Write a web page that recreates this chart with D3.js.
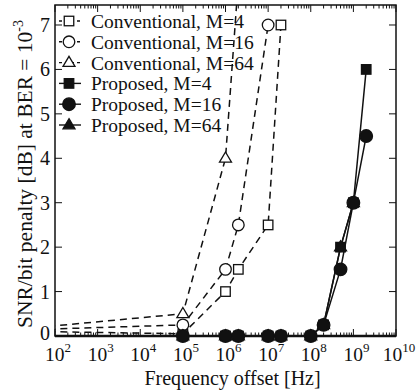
<!DOCTYPE html>
<html>
<head>
<meta charset="utf-8">
<script src="https://cdn.jsdelivr.net/npm/d3@7"></script>
<style>
  body { margin: 0; background: #fff; }
  text { font-family: "Liberation Serif", "DejaVu Serif", serif; fill: #111; }
</style>
</head>
<body>
<svg id="chart" width="418" height="391"></svg>
<script>
// values (frequency offset in Hz, penalty in dB)
const convM4 = [[1e1, 0.11], [1e5, 0.05], [1e6, 1.0], [2e6, 1.5], [1e7, 2.5], [2e7, 7.0]];
const convM16 = [[1e1, 0.13], [1e5, 0.25], [1e6, 1.5], [2e6, 2.5], [1e7, 7.0]];
const convM64 = [[1e1, 0.14], [1e5, 0.5], [1e6, 4.0], [2e6, 8.0]];
const propM4 = [[1e5, 0], [1e6, 0], [2e6, 0], [1e7, 0], [2e7, 0], [1e8, 0], [2e8, 0.25], [5e8, 2.0], [1e9, 3.0], [2e9, 6.0]];
const propM64 = [[1e5, 0], [1e6, 0], [2e6, 0], [1e7, 0], [2e7, 0], [1e8, 0], [2e8, 0.25], [5e8, 2.0], [1e9, 3.0]];
const propM16 = [[1e5, 0], [1e6, 0], [2e6, 0], [1e7, 0], [2e7, 0], [1e8, 0], [2e8, 0.25], [5e8, 1.5], [1e9, 3.0], [2e9, 4.5]];

const xExponents = [2, 3, 4, 5, 6, 7, 8, 9, 10];
const yTicks = [0, 1, 2, 3, 4, 5, 6, 7];

const series = [
  { name: 'Conventional, M=4', data: convM4, shape: 'square', filled: false, dashed: true },
  { name: 'Conventional, M=16', data: convM16, shape: 'circle', filled: false, dashed: true },
  { name: 'Conventional, M=64', data: convM64, shape: 'triangle', filled: false, dashed: true },
  { name: 'Proposed, M=4', data: propM4, shape: 'square', filled: true, dashed: false },
  { name: 'Proposed, M=16', data: propM16, shape: 'circle', filled: true, dashed: false },
  { name: 'Proposed, M=64', data: propM64, shape: 'triangle', filled: true, dashed: false },
];

const margin = { left: 55, right: 22, top: 5, bottom: 55 };
const width = 418, height = 391;
const svg = d3.select('#chart');

const x = d3.scaleLog().domain([1e2, 1e10]).range([margin.left, width - margin.right]);
const y = d3.scaleLinear().domain([0, 7.45]).range([height - margin.bottom, margin.top]);

const x0 = x.range()[0], x1 = x.range()[1];
const y0 = y.range()[0], y1 = y.range()[1];

svg.append('clipPath').attr('id', 'plotClip')
  .append('rect').attr('x', x0).attr('y', y1).attr('width', x1 - x0).attr('height', y0 - y1);
// markers may hang below the bottom axis, as in the reference
svg.append('clipPath').attr('id', 'markClip')
  .append('rect').attr('x', x0).attr('y', y1).attr('width', x1 - x0).attr('height', y0 - y1 + 10);

// minor + major ticks for the log axis
const minorX = [];
for (let e = 2; e < 10; e++) for (let m = 2; m <= 9; m++) minorX.push(m * Math.pow(10, e));
const majorX = xExponents.map(e => Math.pow(10, e));

const ticks = svg.append('g').attr('stroke', '#111').attr('stroke-width', 1);
[y0, y1].forEach(yy => {
  const dir = yy === y0 ? -1 : 1;
  minorX.forEach(v => ticks.append('line').attr('x1', x(v)).attr('x2', x(v)).attr('y1', yy).attr('y2', yy + dir * 3.5));
  majorX.forEach(v => ticks.append('line').attr('x1', x(v)).attr('x2', x(v)).attr('y1', yy).attr('y2', yy + dir * 7));
});
[x0, x1].forEach(xx => {
  const dir = xx === x0 ? 1 : -1;
  yTicks.forEach(v => ticks.append('line').attr('x1', xx).attr('x2', xx + dir * 7).attr('y1', y(v)).attr('y2', y(v)));
});

// x tick labels 10^n
const xl = svg.append('g');
xExponents.forEach(e => {
  const t = xl.append('text').attr('x', x(Math.pow(10, e)) + 3).attr('y', y0 + 25)
    .attr('text-anchor', 'middle').style('font-size', '19.5px');
  t.append('tspan').text('10');
  t.append('tspan').attr('dy', -9).style('font-size', '13px').text(e);
});

// y tick labels (the 0 sits a little higher so it clears the 10^2 below it)
svg.append('g').selectAll('text').data(yTicks).join('text')
  .attr('x', x0 - 5).attr('y', d => y(d) + (d === 0 ? 4 : 7))
  .attr('text-anchor', 'end').style('font-size', '20px')
  .text(d => d);

// axis titles
svg.append('text').attr('x', (x0 + x1) / 2 + 7).attr('y', 385)
  .attr('text-anchor', 'middle').style('font-size', '20px').text('Frequency offset [Hz]');
const yt = svg.append('text').attr('transform', `translate(32,174) rotate(-90)`)
  .attr('text-anchor', 'middle').style('font-size', '21.5px');
yt.append('tspan').text('SNR/bit penalty [dB] at BER = 10');
yt.append('tspan').attr('dy', -9).style('font-size', '14px').text('-3');

function drawMarker(g, shape, filled, cx, cy) {
  const fill = filled ? '#111' : '#fff';
  if (shape === 'square') {
    const s = 9.5;
    g.append('rect').attr('x', cx - s / 2).attr('y', cy - s / 2).attr('width', s).attr('height', s)
      .attr('fill', fill).attr('stroke', '#111').attr('stroke-width', 1.3);
  } else if (shape === 'circle') {
    g.append('circle').attr('cx', cx).attr('cy', cy).attr('r', filled ? 6.3 : 5.8)
      .attr('fill', fill).attr('stroke', '#111').attr('stroke-width', 1.3);
  } else {
    const r = 6.3;
    const pts = [[cx, cy - r], [cx + r * 0.95, cy + r * 0.6], [cx - r * 0.95, cy + r * 0.6]];
    g.append('polygon').attr('points', pts.map(p => p.join(',')).join(' '))
      .attr('fill', fill).attr('stroke', '#111').attr('stroke-width', 1.3);
  }
}

const plot = svg.append('g').attr('clip-path', 'url(#plotClip)');
const line = d3.line().x(d => x(d[0])).y(d => y(d[1]));

series.forEach(s => {
  plot.append('path').datum(s.data).attr('d', line)
    .attr('fill', 'none').attr('stroke', '#111').attr('stroke-width', 1.5)
    .attr('stroke-dasharray', s.dashed ? '7,5' : null);
});

// frame
svg.append('rect').attr('x', x0).attr('y', y1).attr('width', x1 - x0).attr('height', y0 - y1)
  .attr('fill', 'none').attr('stroke', '#111').attr('stroke-width', 1.5);
svg.append('line').attr('x1', x0).attr('x2', x1).attr('y1', y0).attr('y2', y0)
  .attr('stroke', '#111').attr('stroke-width', 2.5);

// markers: draw so that filled circles end up on top
const marks = svg.append('g').attr('clip-path', 'url(#markClip)');
const order = [0, 1, 2, 3, 5, 4];
order.forEach(i => {
  const s = series[i];
  const g = marks.append('g');
  s.data.forEach(d => drawMarker(g, s.shape, s.filled, x(d[0]), y(d[1])));
});

// legend
const legend = svg.append('g');
series.forEach((s, i) => {
  const ly = 21 + i * 20.8;
  const row = legend.append('g');
  row.append('line').attr('x1', 59).attr('x2', 81).attr('y1', ly).attr('y2', ly)
    .attr('stroke', '#111').attr('stroke-width', 1.4)
    .attr('stroke-dasharray', s.dashed ? '3,3' : null);
  drawMarker(row, s.shape, s.filled, 69, ly);
  row.append('text').attr('x', 91).attr('y', ly + 7).style('font-size', '19.5px').text(s.name);
});
</script>
</body>
</html>
